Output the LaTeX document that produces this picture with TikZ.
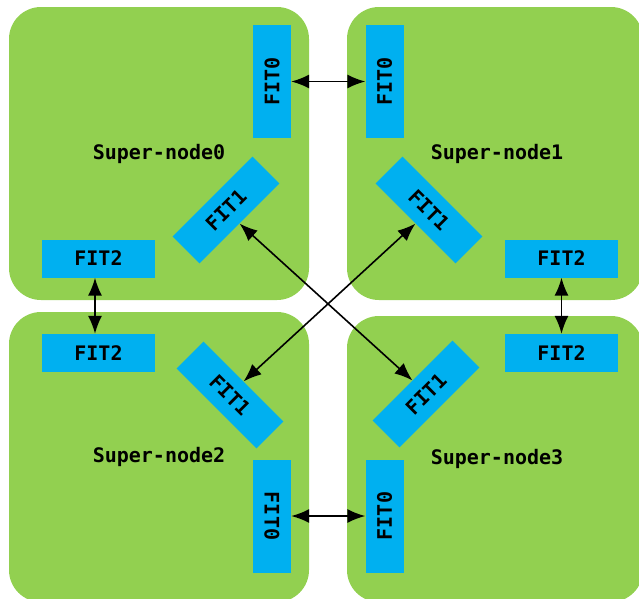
\documentclass[tikz,border=0pt]{standalone}
\usepackage{fontspec}
\newfontfamily\lblfont{DejaVu Sans Mono}
\usetikzlibrary{arrows.meta}
\definecolor{sngreen}{HTML}{92D050}
\definecolor{fitblue}{HTML}{00B0F0}
\tikzset{
  super/.style={fill=sngreen, rounded corners=32pt, inner sep=0pt, font=\lblfont\bfseries\fontsize{20}{22}\selectfont},
  fitbox/.style={fill=fitblue, inner sep=0pt, minimum width=113pt, minimum height=38pt, font=\lblfont\bfseries\fontsize{20}{22}\selectfont},
  link/.style={line width=1.6pt, {Latex[length=18pt,width=14pt]}-{Latex[length=18pt,width=14pt]}}
}
\begin{document}
\begin{tikzpicture}[x=1pt,y=-1pt]
\useasboundingbox (0,0) rectangle (639,598);
\clip (0,0) rectangle (639,598);
% super-nodes
\node[super, minimum width=300pt, minimum height=293pt] (s0) at (159,153.5) {Super-node0};
\node[super, minimum width=296pt, minimum height=293pt] (s1) at (495,153.5) {\hspace*{4pt}Super-node1};
\node[super, minimum width=300pt, minimum height=290pt] (s2) at (159,457) {Super-node2};
\node[super, minimum width=296pt, minimum height=286pt] (s3) at (495,459) {\hspace*{4pt}Super-node3};
% FIT0
\node[fitbox, rotate=90]  (f0a) at (272,81.5) {FIT0};
\node[fitbox, rotate=90]  (f0b) at (384.5,81.5) {FIT0};
\node[fitbox, rotate=-90] (f0c) at (272,516) {FIT0};
\node[fitbox, rotate=90]  (f0d) at (384.5,516) {FIT0};
% FIT1
\node[fitbox, rotate=45]  (f1a) at (226,210) {FIT1};
\node[fitbox, rotate=-45] (f1b) at (429,210) {FIT1};
\node[fitbox, rotate=-45] (f1c) at (230,395) {FIT1};
\node[fitbox, rotate=45]  (f1d) at (426,394) {FIT1};
% FIT2
\node[fitbox] (f2a) at (98.5,258.5) {FIT2};
\node[fitbox] (f2b) at (561.5,258.5) {FIT2};
\node[fitbox] (f2c) at (98.5,353) {FIT2};
\node[fitbox] (f2d) at (561.5,353) {FIT2};
% links
\draw[link] (f0a.south) -- (f0b.north);
\draw[link] (f0c.north) -- (f0d.north);
\draw[link] ([xshift=-3.5pt]f2a.south) -- ([xshift=-3.5pt]f2c.north);
\draw[link] (f2b.south) -- (f2d.north);
\draw[link] (f1a.south) -- (f1d.north);
\draw[link] (f1b.south) -- (f1c.north);
\end{tikzpicture}
\end{document}
